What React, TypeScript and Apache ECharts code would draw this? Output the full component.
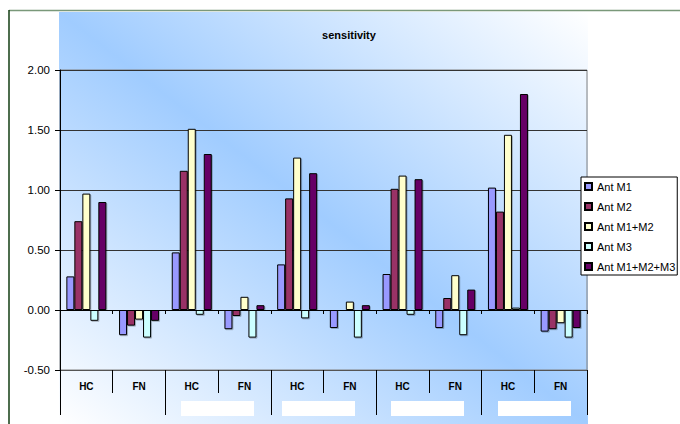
import React, { useEffect, useRef } from 'react';
import * as echarts from 'echarts';

// ---- data ----
const categories = ['HC', 'FN', 'HC', 'FN', 'HC', 'FN', 'HC', 'FN', 'HC', 'FN'];
const groups = ['G1', 'G2', 'G3', 'G4', 'G5']; // group labels are blanked out in the reference
const seriesNames = ['Ant M1', 'Ant M2', 'Ant M1+M2', 'Ant M3', 'Ant M1+M2+M3'];
const antM1 = [0.28, -0.21, 0.48, -0.16, 0.38, -0.15, 0.30, -0.15, 1.02, -0.18];
const antM2 = [0.74, -0.13, 1.16, -0.05, 0.93, 0.0, 1.01, 0.10, 0.82, -0.16];
const antM1M2 = [0.97, -0.08, 1.51, 0.11, 1.27, 0.07, 1.12, 0.29, 1.46, -0.11];
const antM3 = [-0.09, -0.23, -0.04, -0.23, -0.07, -0.23, -0.04, -0.21, 0.02, -0.23];
const antM1M2M3 = [0.90, -0.09, 1.30, 0.04, 1.14, 0.04, 1.09, 0.17, 1.80, -0.15];
const yMin = -0.5;
const yMax = 2.0;
const yInterval = 0.5;
const titleText = 'sensitivity';

const seriesColors = ['#9999ff', '#993366', '#ffffcc', '#ccffff', '#660066'];

export default function App() {
  const ref = useRef<HTMLDivElement>(null);

  useEffect(() => {
    if (!ref.current) return;
    const chart = echarts.init(ref.current, null, { renderer: 'svg' });
    const font = "'Liberation Sans', Arial, sans-serif";
    const values = [antM1, antM2, antM1M2, antM3, antM1M2M3];

    const whiteBoxes = [
      [181, 401, 73, 15],
      [282, 401, 73, 15],
      [391, 401, 73, 15],
      [498, 401, 73, 15],
    ];

    chart.setOption({
      animation: false,
      backgroundColor: '#ffffff',
      textStyle: { fontFamily: font },
      title: {
        text: titleText,
        left: 349,
        top: 29,
        padding: 0,
        textAlign: 'center',
        textStyle: { fontSize: 11, fontWeight: 'bold', color: '#000', fontFamily: font },
      },
      legend: {
        data: seriesNames,
        orient: 'vertical',
        left: 581,
        top: 177,
        itemWidth: 7,
        itemHeight: 7,
        itemGap: 9,
        padding: [4, 2, 3, 3],
        backgroundColor: '#ffffff',
        borderColor: '#000000',
        borderWidth: 1,
        icon: 'rect',
        textStyle: { fontSize: 11, color: '#000', fontFamily: font },
      },
      grid: {
        left: 60,
        right: 93,
        top: 70,
        bottom: 54,
        show: true,
        backgroundColor: 'transparent',
        borderColor: '#808080',
        borderWidth: 1,
      },
      xAxis: [
        {
          type: 'category',
          data: categories,
          axisLine: { show: true, onZero: true, lineStyle: { color: '#000', width: 1 } },
          axisTick: { show: true, length: 4, interval: 0, lineStyle: { color: '#000' } },
          axisLabel: { show: false },
          splitLine: { show: false },
          z: 5,
        },
        {
          type: 'category',
          data: categories,
          position: 'bottom',
          axisLine: { show: true, onZero: false, lineStyle: { color: '#555', width: 1 } },
          axisTick: { show: true, length: 23, interval: 0, lineStyle: { color: '#000' } },
          axisLabel: {
            show: true,
            interval: 0,
            margin: 11,
            fontSize: 10,
            fontWeight: 'bold',
            color: '#000',
            fontFamily: font,
          },
          splitLine: { show: false },
        },
        {
          type: 'category',
          data: groups,
          position: 'bottom',
          axisLine: { show: false, onZero: false },
          axisTick: { show: true, length: 45, interval: 0, lineStyle: { color: '#000' } },
          axisLabel: { show: false },
          splitLine: { show: false },
        },
      ],
      yAxis: {
        type: 'value',
        min: yMin,
        max: yMax,
        interval: yInterval,
        axisLine: { show: true, lineStyle: { color: '#000' } },
        axisTick: { show: true, length: 5, lineStyle: { color: '#000' } },
        axisLabel: {
          margin: 10,
          fontSize: 11.5,
          color: '#000',
          fontFamily: font,
          formatter: (v: number) => v.toFixed(2),
        },
        splitLine: { show: true, lineStyle: { color: '#333', width: 1 } },
      },
      series: seriesNames.map((name, i) => ({
        name,
        type: 'bar',
        xAxisIndex: 0,
        yAxisIndex: 0,
        data: values[i],
        barWidth: 8,
        barGap: '0%',
        itemStyle: {
          color: seriesColors[i],
          borderColor: '#000',
          borderWidth: 1,
          shadowColor: 'rgba(0,0,0,0.25)',
          shadowBlur: 1,
          shadowOffsetX: 1,
          shadowOffsetY: 1,
        },
        emphasis: { disabled: true },
      })),
      graphic: [
        {
          type: 'rect',
          silent: true,
          z: -100,
          shape: { x: 59, y: 12, width: 529, height: 412 },
          style: {
            fill: new echarts.graphic.LinearGradient(1, 0, 0, 1, [
              { offset: 0, color: '#ffffff' },
              { offset: 0.5, color: '#a0ccff' },
              { offset: 1, color: '#ffffff' },
            ]),
          },
        },
        {
          type: 'line',
          silent: true,
          z: 50,
          shape: { x1: 9, y1: 10.5, x2: 680, y2: 10.5 },
          style: { stroke: '#7a987a', lineWidth: 1.5 },
        },
        {
          type: 'line',
          silent: true,
          z: 50,
          shape: { x1: 9, y1: 10, x2: 9, y2: 424 },
          style: { stroke: '#123d12', lineWidth: 1.5 },
        },
        ...whiteBoxes.map(([x, y, w, h]) => ({
          type: 'rect',
          silent: true,
          z: 100,
          shape: { x, y, width: w, height: h },
          style: { fill: '#ffffff' },
        })),
      ],
    });

    return () => chart.dispose();
  }, []);

  return (
    <div
      ref={ref}
      style={{ position: 'fixed', left: 0, top: 0, width: 680, height: 424 }}
    />
  );
}
